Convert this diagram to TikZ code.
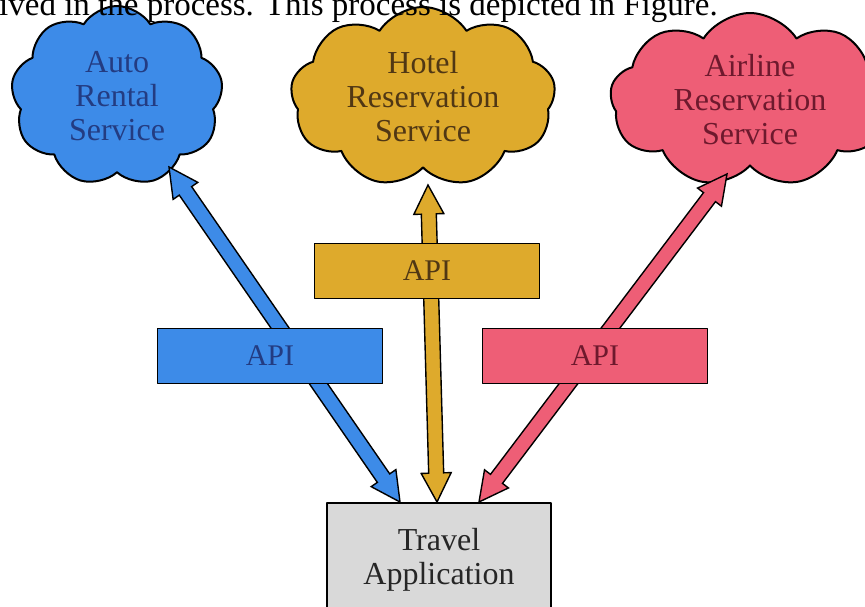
\documentclass[tikz,border=0pt]{standalone}
\usepackage{fontspec}
\setmainfont{Liberation Serif}
\usetikzlibrary{shapes.symbols,calc}

\definecolor{autoblue}{RGB}{61,139,232}
\definecolor{hotelgold}{RGB}{222,170,44}
\definecolor{airred}{RGB}{238,94,118}
\definecolor{appgrey}{RGB}{217,217,217}
\definecolor{autotext}{RGB}{35,60,130}
\definecolor{hoteltext}{RGB}{80,55,20}
\definecolor{airtext}{RGB}{110,25,45}

% fat double-headed arrow: #1 tail, #2 head, #3 fill colour
\newcommand{\fatarrow}[3]{%
  \draw[arrowline, fill=#3]
    (#1) -- ($(#1)!29pt!(#2)!15pt!90:(#2)$) -- ($(#1)!29pt!(#2)!7.5pt!90:(#2)$)
    -- ($(#2)!29pt!(#1)!7.5pt!-90:(#1)$) -- ($(#2)!29pt!(#1)!15pt!-90:(#1)$)
    -- (#2) -- ($(#2)!29pt!(#1)!15pt!90:(#1)$) -- ($(#2)!29pt!(#1)!7.5pt!90:(#1)$)
    -- ($(#1)!29pt!(#2)!7.5pt!-90:(#2)$) -- ($(#1)!29pt!(#2)!15pt!-90:(#2)$) -- cycle;}

\begin{document}
\begin{tikzpicture}[x=1pt, y=1pt, line cap=round, line join=round,
    svc/.style={cloud, cloud puffs=9, cloud puff arc=115, cloud ignores aspect,
      draw=black, line width=2pt, align=center, font=\fontsize{32}{34}\selectfont},
    apibox/.style={rectangle, draw=black, line width=1.6pt, minimum width=225pt,
      minimum height=55pt, font=\fontsize{30}{34}\selectfont},
    arrowline/.style={draw=black, line width=1.4pt, line join=miter}]
  \useasboundingbox (0,0) rectangle (865,-606);
  % services
  \node[svc, fill=autoblue, text=autotext, minimum width=212pt, minimum height=180pt]
    (auto) at (117,-96) {Auto\\Rental\\Service};
  \node[svc, fill=hotelgold, text=hoteltext, minimum width=265pt, minimum height=180pt]
    (hotel) at (423,-97) {Hotel\\Reservation\\Service};
  \node[svc, fill=airred, text=airtext, minimum width=280pt, minimum height=174pt]
    (airline) at (750,-100) {Airline\\Reservation\\Service};
  % client
  \node[rectangle, draw=black, line width=1.6pt, fill=appgrey, anchor=north,
    minimum width=224pt, minimum height=114pt, align=center, text=black!85,
    font=\fontsize{32}{34}\selectfont] (app) at (439,-502) {Travel\\Application};
  % arrow ends
  \coordinate (autotail) at ($(auto.center)+(52,-71)$);
  \coordinate (autohead) at ($(app.north)+(-39,0)$);
  \coordinate (hoteltail) at ($(hotel.center)+(5,-88)$);
  \coordinate (hotelhead) at ($(app.north)+(-2,0)$);
  \coordinate (airtail) at ($(airline.center)+(-23,-74)$);
  \coordinate (airhead) at ($(app.north)+(40,0)$);
  \fatarrow{autotail}{autohead}{autoblue}
  \fatarrow{hoteltail}{hotelhead}{hotelgold}
  \fatarrow{airtail}{airhead}{airred}
  % interfaces
  \node[apibox, fill=autoblue, text=autotext] (apiauto) at (270,-356) {API};
  \node[apibox, fill=hotelgold, text=hoteltext] (apihotel) at (427,-271) {API};
  \node[apibox, fill=airred, text=airtext] (apiair) at (595,-356) {API};
  % running text above
  \node[anchor=base west, inner sep=0pt, font=\fontsize{33}{36}\selectfont]
    (caption) at (-1,-15) {ived in the process. This process is depicted in Figure.};
\end{tikzpicture}
\end{document}
